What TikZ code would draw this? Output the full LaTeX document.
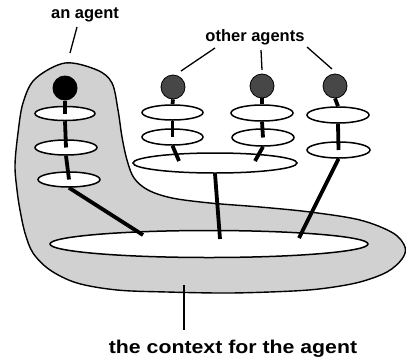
\documentclass[tikz,border=0pt]{standalone}
\usepackage{fontspec}
\setmainfont{Liberation Sans}
\usetikzlibrary{shapes.geometric}
\begin{document}
\begin{tikzpicture}[x=1pt,y=-1pt,
  plane/.style={draw, ellipse, fill=white, line width=1.5pt, inner sep=0pt},
  pole/.style={line width=3.8pt},
  lead/.style={line width=1.3pt},
  selfagent/.style={circle, fill=black, inner sep=0pt, minimum size=25pt},
  peer/.style={circle, fill=black!72, draw=black, line width=0.8pt, inner sep=0pt, minimum size=24pt},
  lbl/.style={font=\bfseries\fontsize{16.5}{18}\selectfont, inner sep=0pt, anchor=base},
  region/.style={fill=black!18, draw, line width=1.4pt}]
\useasboundingbox (0,0) rectangle (406,362);

% shaded context region around the agent
\draw[region] plot[smooth cycle, tension=0.55] coordinates {
  (65,63) (97,70) (112,83) (118,110) (122,137) (127,160) (134,178)
  (148,190) (172,198) (210,203) (260,207) (310,212) (360,220)
  (393,233) (405,247) (402,259) (387,272) (360,282) (327,288)
  (293,291) (230,293) (167,292) (117,290) (77,283) (50,270)
  (33,253) (25,233) (20,210) (17,190) (15,165) (18,133) (23,103) (35,79)};

% shared planes
\node[plane, minimum width=318pt, minimum height=27pt] (ctx) at (209,244) {};
\node[plane, minimum width=164pt, minimum height=20pt] (mid) at (215,163) {};

% the agent
\node[plane, minimum width=60pt, minimum height=14pt] (a1) at (65,113.5) {};
\node[plane, minimum width=62pt, minimum height=15pt] (a2) at (66,147.5) {};
\node[plane, minimum width=62pt, minimum height=15pt] (a3) at (69,179.5) {};
\node[selfagent] (a0) at (65,88) {};

% other agents
\node[plane, minimum width=61pt, minimum height=15pt] (b1) at (172.5,112.5) {};
\node[plane, minimum width=61pt, minimum height=16pt] (b2) at (172.5,137) {};
\node[peer] (b0) at (173,87) {};

\node[plane, minimum width=62pt, minimum height=16pt] (c1) at (262,113) {};
\node[plane, minimum width=62pt, minimum height=17pt] (c2) at (263,137.5) {};
\node[peer] (c0) at (262,86) {};

\node[plane, minimum width=62pt, minimum height=16pt] (d1) at (338,115) {};
\node[plane, minimum width=63pt, minimum height=16pt] (d2) at (338.5,150) {};
\node[peer] (d0) at (335,86) {};

% points where poles meet the planes below
\coordinate (ja) at (143,235);
\coordinate (jm) at (220,239);
\coordinate (jd) at (299,238);
\coordinate (jb) at (179,161);
\coordinate (jc) at (255,161);

% poles
\draw[pole] (a0.south) -- (a1.center);
\draw[pole] (a1.south) -- (a2.center);
\draw[pole] (a2.south) -- (a3.center);
\draw[pole] (a3.south) -- (ja);

\draw[pole] (b0.south) -- (b1.north);
\draw[pole] (b1.south) -- (b2.center);
\draw[pole] (b2.south) -- (jb);

\draw[pole] (c0.south) -- (c1.north);
\draw[pole] (c1.south) -- (c2.center);
\draw[pole] (c2.south) -- (jc);

\draw[pole] (d0.south) -- (d1.north);
\draw[pole] (d1.south) -- (d2.center);
\draw[pole] (d2.south) -- (jd);

\draw[pole] (mid.south) -- (jm);

% labels and leaders
\node[lbl] (tagent) at (85,18) {an agent};
\node[lbl] (tothers) at (255,41) {other agents};
\node[lbl, font=\bfseries\fontsize{18.5}{20}\selectfont] (tctx) at (233,353)
  {\scalebox{1.15}[1]{the context for the agent}};

\coordinate (la1) at (77,27);  \coordinate (la2) at (70,53);
\coordinate (lb1) at (215,48); \coordinate (lb2) at (181,71);
\coordinate (lc1) at (261,50); \coordinate (lc2) at (262,70);
\coordinate (ld1) at (307,47); \coordinate (ld2) at (332,69);
\coordinate (lx1) at (184,285); \coordinate (lx2) at (184,330);

\draw[lead] (la1) -- (la2);
\draw[lead] (lb1) -- (lb2);
\draw[lead] (lc1) -- (lc2);
\draw[lead] (ld1) -- (ld2);
\draw[lead] (lx1) -- (lx2);
\end{tikzpicture}
\end{document}
